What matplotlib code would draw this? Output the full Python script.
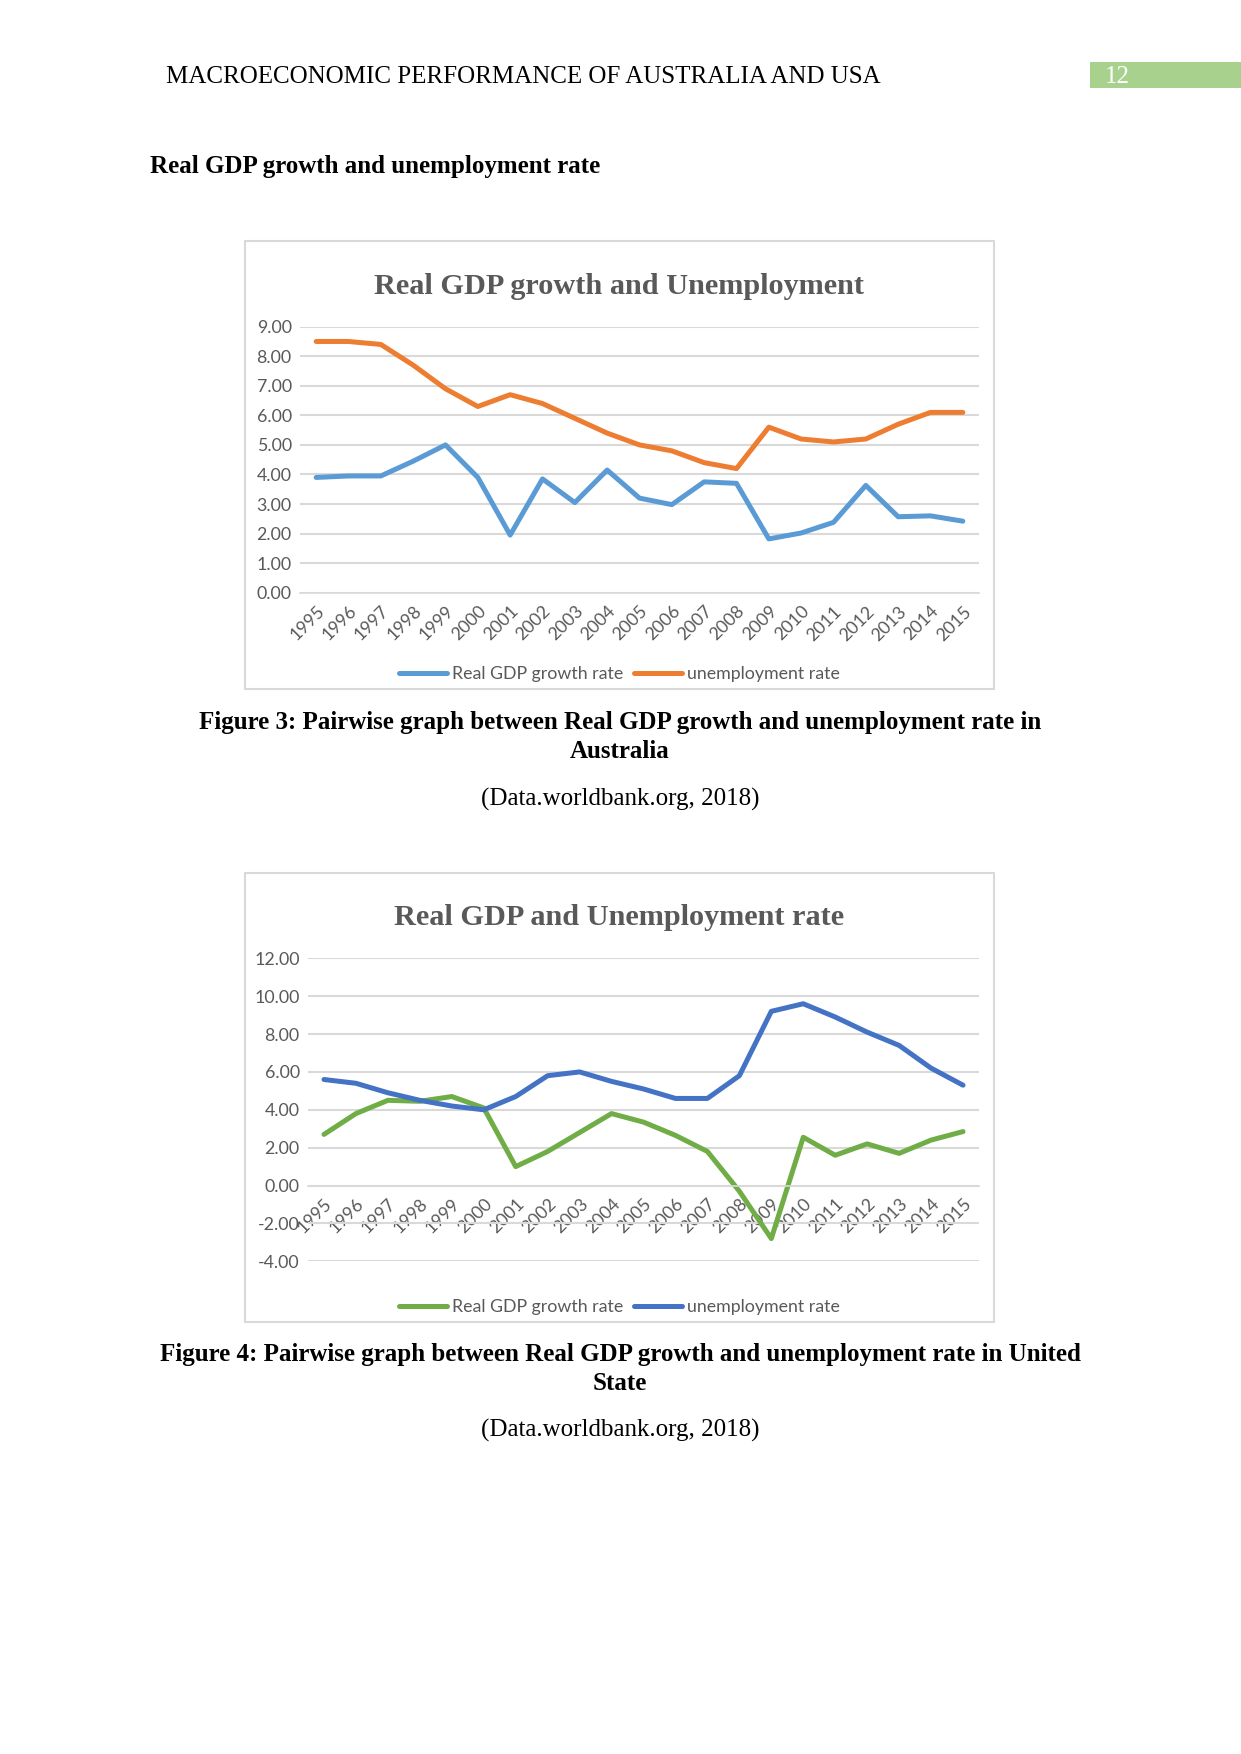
import matplotlib.pyplot as plt
from matplotlib.patches import Rectangle

years = [str(y) for y in range(1995, 2016)]

# Australia
aus_gdp = [3.9, 3.95, 3.95, 4.45, 5.0, 3.9, 1.95, 3.85, 3.05, 4.15, 3.2,
           2.98, 3.75, 3.7, 1.82, 2.02, 2.38, 3.63, 2.57, 2.6, 2.42]
aus_unemp = [8.5, 8.5, 8.4, 7.7, 6.9, 6.3, 6.7, 6.4, 5.9, 5.4, 5.0,
             4.8, 4.4, 4.2, 5.6, 5.2, 5.1, 5.2, 5.7, 6.1, 6.1]

# USA
usa_gdp = [2.7, 3.8, 4.5, 4.45, 4.7, 4.1, 1.0, 1.8, 2.8, 3.8, 3.35,
           2.65, 1.8, -0.3, -2.8, 2.55, 1.6, 2.2, 1.7, 2.4, 2.85]
usa_unemp = [5.6, 5.4, 4.9, 4.5, 4.2, 4.0, 4.7, 5.8, 6.0, 5.5, 5.1,
             4.6, 4.6, 5.8, 9.2, 9.6, 8.9, 8.1, 7.4, 6.2, 5.3]

series_names = ["Real GDP growth rate", "unemployment rate"]

W, H = 1241, 1754
GRAY = "#595959"
GRID = "#d9d9d9"
SERIF = "Liberation Serif"
SANS = "Lato"

fig = plt.figure(figsize=(W / 150, H / 150), dpi=150)


def fx(px):
    return px / W


def fy(px):
    return 1 - px / H


def chart(box, axbox, title, gdp, unemp, colors, ylim, yticks):
    # box and axbox in pixels: (x0, y0, x1, y1), y from the top
    x0, y0, x1, y1 = box
    fig.add_artist(Rectangle((fx(x0), fy(y1)), fx(x1 - x0), (y1 - y0) / H,
                             transform=fig.transFigure, facecolor="none",
                             edgecolor=GRID, lw=1, zorder=-1))
    ax0, ay0, ax1, ay1 = axbox
    ax = fig.add_axes([fx(ax0), fy(ay1), fx(ax1 - ax0), (ay1 - ay0) / H])
    ax.patch.set_visible(False)
    for s in ["top", "right", "left"]:
        ax.spines[s].set_visible(False)
    # category axis crosses at zero, like Excel
    ax.spines["bottom"].set_position(("data", 0))
    ax.spines["bottom"].set_color(GRID)
    xs = range(len(years))
    l1, = ax.plot(xs, gdp, color=colors[0], lw=2.4, solid_capstyle="round")
    l2, = ax.plot(xs, unemp, color=colors[1], lw=2.4, solid_capstyle="round")
    ax.set_xlim(-0.5, len(years) - 0.5)
    ax.set_ylim(*ylim)
    ax.set_yticks(yticks)
    ax.set_yticklabels(["%.2f" % v for v in yticks], family=SANS,
                       fontsize=8.5, color=GRAY)
    ax.set_xticks(list(xs))
    ax.set_xticklabels(years, rotation=45, ha="right", rotation_mode="anchor",
                       family=SANS, fontsize=8.5, color=GRAY)
    ax.grid(axis="y", color=GRID, lw=1)
    ax.set_axisbelow(True)
    ax.tick_params(length=0, pad=4)
    ax.tick_params(axis="x", pad=5)
    fig.text(fx((x0 + x1) / 2), fy(y0 + 45), title, ha="center", va="center",
             family=SERIF, fontsize=14.5, weight="bold", color=GRAY)
    fig.legend([l1, l2], series_names, loc="center",
               bbox_to_anchor=(fx((x0 + x1) / 2), fy(y1 - 15)), ncol=2,
               frameon=False, handlelength=2.7, columnspacing=0.6,
               handletextpad=0.3, prop={"family": SANS, "size": 8.5},
               labelcolor=GRAY)
    return ax


chart((245, 241, 994, 689), (300, 326.7, 979, 592.7),
      "Real GDP growth and Unemployment", aus_gdp, aus_unemp,
      ["#5B9BD5", "#ED7D31"], (0, 9), [0, 1, 2, 3, 4, 5, 6, 7, 8, 9])

chart((245, 873, 994, 1322), (308, 958.3, 979, 1261.3),
      "Real GDP and Unemployment rate", usa_gdp, usa_unemp,
      ["#70AD47", "#4472C4"], (-4, 12), [-4, -2, 0, 2, 4, 6, 8, 10, 12])

# page header
fig.text(fx(166), fy(77), "MACROECONOMIC PERFORMANCE OF AUSTRALIA AND USA",
         ha="left", va="center", family=SERIF, fontsize=12)
fig.add_artist(Rectangle((fx(1090), fy(88)), fx(151), 26 / H,
                         transform=fig.transFigure, facecolor="#A9D18E",
                         edgecolor="none"))
fig.text(fx(1105), fy(77), "12", ha="left", va="center", family=SERIF,
         fontsize=12, color="white")

fig.text(fx(150), fy(167), "Real GDP growth and unemployment rate",
         ha="left", va="center", family=SERIF, fontsize=12, weight="bold")

# captions
cx = fx(620)
fig.text(cx, fy(723), "Figure 3: Pairwise graph between Real GDP growth and "
         "unemployment rate in", ha="center", va="center", family=SERIF,
         fontsize=12, weight="bold")
fig.text(cx, fy(752), "Australia", ha="center", va="center", family=SERIF,
         fontsize=12, weight="bold")
fig.text(cx, fy(799), "(Data.worldbank.org, 2018)", ha="center", va="center",
         family=SERIF, fontsize=12)

fig.text(cx, fy(1355), "Figure 4: Pairwise graph between Real GDP growth and "
         "unemployment rate in United", ha="center", va="center",
         family=SERIF, fontsize=12, weight="bold")
fig.text(cx, fy(1384), "State", ha="center", va="center", family=SERIF,
         fontsize=12, weight="bold")
fig.text(cx, fy(1430), "(Data.worldbank.org, 2018)", ha="center",
         va="center", family=SERIF, fontsize=12)

fig.savefig("out.png", dpi=150)
